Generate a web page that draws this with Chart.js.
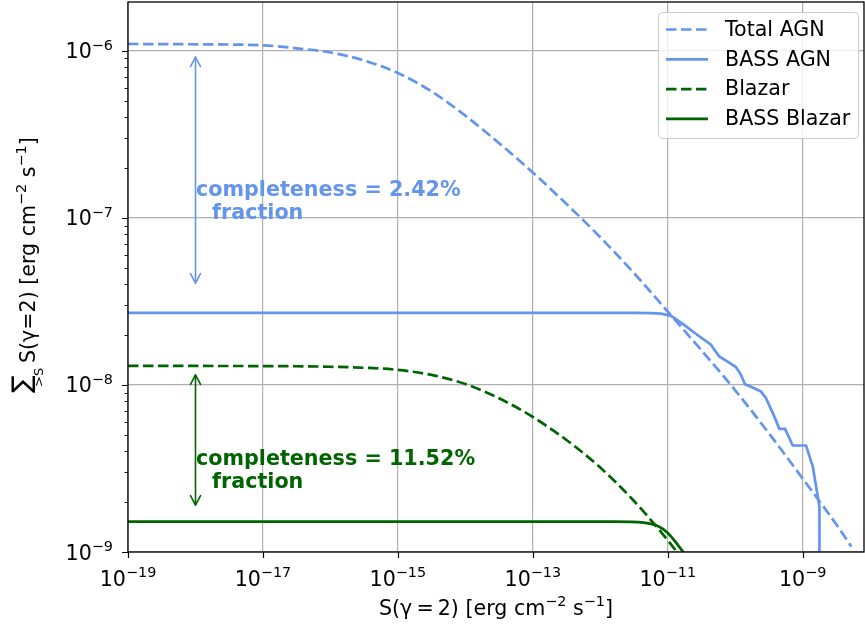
<!DOCTYPE html>
<html>
<head>
<meta charset="utf-8">
<script src="https://cdn.jsdelivr.net/npm/chart.js@4.4.1/dist/chart.umd.min.js"></script>
<style>
  html, body { margin: 0; padding: 0; background: #ffffff; }
  #wrap { width: 865px; height: 628px; position: relative; }
  canvas { display: block; }
</style>
</head>
<body>
<div id="wrap"><canvas id="chart" width="865" height="628"></canvas></div>
<script>
// ---------------- data ----------------
const seriesNames = ['Total AGN', 'BASS AGN', 'Blazar', 'BASS Blazar'];

const totalAgnX = [1e-19, 1e-18, 1e-17, 3.16e-17, 1e-16, 3.16e-16, 1e-15, 3.16e-15, 1e-14, 3.16e-14,
                   1e-13, 3.16e-13, 1e-12, 3.16e-12, 1e-11, 3.16e-11, 1e-10, 3.16e-10, 1e-9, 3.16e-9, 5.25e-9];
const totalAgnY = [1.099e-6, 1.094e-6, 1.079e-6, 1.035e-6, 9.77e-7, 8.75e-7, 7.36e-7, 5.71e-7, 4.09e-7, 2.80e-7,
                   1.87e-7, 1.21e-7, 7.66e-8, 4.67e-8, 2.75e-8, 1.61e-8, 9.29e-9, 5.13e-9, 2.75e-9, 1.46e-9, 1.08e-9];

const bassAgnX = [1e-19, 1e-12, 3.16e-12, 5.58e-12, 7.94e-12, 1.00e-11, 1.175e-11, 1.746e-11, 2.76e-11, 4.36e-11,
                  5.78e-11, 7.71e-11, 1.023e-10, 1.216e-10, 1.393e-10, 1.914e-10, 2.41e-10, 2.86e-10, 3.80e-10,
                  4.51e-10, 5.47e-10, 7.13e-10, 1.122e-9, 1.413e-9, 1.77e-9, 1.77e-9];
const bassAgnY = [2.70e-8, 2.70e-8, 2.70e-8, 2.69e-8, 2.67e-8, 2.62e-8, 2.56e-8, 2.29e-8, 1.99e-8, 1.74e-8,
                  1.48e-8, 1.38e-8, 1.28e-8, 1.15e-8, 1.01e-8, 9.55e-9, 9.12e-9, 8.32e-9, 6.46e-9,
                  5.46e-9, 5.46e-9, 4.34e-9, 4.34e-9, 3.24e-9, 1.87e-9, 3.0e-10];

const blazarX = [1e-19, 1e-17, 3.16e-17, 1e-16, 3.16e-16, 1e-15, 3.16e-15, 1e-14, 3.16e-14, 1e-13, 3.16e-13,
                 1e-12, 3.16e-12, 1e-11, 1.78e-11];
const blazarY = [1.300e-8, 1.297e-8, 1.294e-8, 1.285e-8, 1.267e-8, 1.230e-8, 1.148e-8, 1.012e-8, 8.32e-9, 6.43e-9, 4.68e-9,
                 3.20e-9, 2.02e-9, 1.175e-9, 8.7e-10];

const bassBlazarX = [1e-19, 1.58e-12, 4.40e-12, 7.10e-12, 1.0e-11, 1.73e-11, 2.2e-11];
const bassBlazarY = [1.52e-9, 1.52e-9, 1.50e-9, 1.43e-9, 1.30e-9, 9.9e-10, 8.7e-10];

const xTickValues = [1e-19, 1e-17, 1e-15, 1e-13, 1e-11, 1e-9];
const xTickLabels = [['10', '−19'], ['10', '−17'], ['10', '−15'], ['10', '−13'], ['10', '−11'], ['10', '−9']];
const yTickValues = [1e-9, 1e-8, 1e-7, 1e-6];
const yTickLabels = [['10', '−9'], ['10', '−8'], ['10', '−7'], ['10', '−6']];
const yMinorTickValues = [2e-9,3e-9,4e-9,5e-9,6e-9,7e-9,8e-9,9e-9,
                          2e-8,3e-8,4e-8,5e-8,6e-8,7e-8,8e-8,9e-8,
                          2e-7,3e-7,4e-7,5e-7,6e-7,7e-7,8e-7,9e-7];

// axis title runs: [text, isSuperscript]
const xAxisTitle = [['S(γ\u2009=\u20092) [erg cm', false], ['−2', true], [' s', false], ['−1', true], [']', false]];
const yAxisTitle = [['S(γ=2) [erg cm', false], ['−2', true], [' s', false], ['−1', true], [']', false]];
const ySumSign = '∑';
const ySumSub = '>S';

// annotations: arrow end values (data units) and texts
const arrowX = 1e-18;
const blueArrowY = [9.17e-7, 4.07e-8];
const greenArrowY = [1.148e-8, 1.91e-9];
const blueNote = ['completeness = 2.42%', 'fraction'];
const greenNote = ['completeness = 11.52%', 'fraction'];
const blueNoteY = 1.28e-7;
const greenNoteY = 3.16e-9;

// ---------------- styling ----------------
const BLUE = '#6495ED';
const GREEN = '#006400';
const FONT = "'DejaVu Sans', 'Liberation Sans', sans-serif";
const MAIN_PX = 20.6, SUP_PX = 14.4, SUP_RAISE = 8.7;
const LW = 2.7;
const DASH = [10.5, 4.5];

function pts(xs, ys) { return xs.map((x, i) => ({ x: x, y: ys[i] })); }

const styles = [
  { color: BLUE, dash: DASH },
  { color: BLUE, dash: [] },
  { color: GREEN, dash: DASH },
  { color: GREEN, dash: [] }
];

// measure & draw runs of text with superscripts (horizontal, in current transform)
function runsWidth(ctx, runs) {
  let w = 0;
  runs.forEach(([t, sup]) => { ctx.font = (sup ? SUP_PX : MAIN_PX) + 'px ' + FONT; w += ctx.measureText(t).width; });
  return w;
}
function drawRuns(ctx, runs, x, y) {
  ctx.textBaseline = 'alphabetic';
  ctx.textAlign = 'left';
  runs.forEach(([t, sup]) => {
    ctx.font = (sup ? SUP_PX : MAIN_PX) + 'px ' + FONT;
    ctx.fillText(t, x, sup ? y - SUP_RAISE : y);
    x += ctx.measureText(t).width;
  });
}

const overlay = {
  id: 'overlay',
  afterDatasetsDraw(chart) {
    const ctx = chart.ctx;
    const a = chart.chartArea;
    const xs = chart.scales.x, ys = chart.scales.y;

    // --- arrows ---
    function arrow(xv, y1v, y2v, color) {
      const x = Math.round(xs.getPixelForValue(xv)) + 0.5;
      const yA = ys.getPixelForValue(y1v), yB = ys.getPixelForValue(y2v);
      ctx.save();
      ctx.strokeStyle = color; ctx.lineWidth = 1.6; ctx.lineCap = 'round'; ctx.lineJoin = 'round';
      ctx.beginPath(); ctx.moveTo(x, yA); ctx.lineTo(x, yB); ctx.stroke();
      const hl = 9.5, hw = 5;
      ctx.beginPath();
      ctx.moveTo(x - hw, yA + hl); ctx.lineTo(x, yA); ctx.lineTo(x + hw, yA + hl);
      ctx.moveTo(x - hw, yB - hl); ctx.lineTo(x, yB); ctx.lineTo(x + hw, yB - hl);
      ctx.stroke();
      ctx.restore();
    }
    arrow(arrowX, blueArrowY[0], blueArrowY[1], BLUE);
    arrow(arrowX, greenArrowY[0], greenArrowY[1], GREEN);

    // --- notes ---
    function note(lines, yv, color) {
      const x = xs.getPixelForValue(arrowX) + 0.5;
      const yc = ys.getPixelForValue(yv);
      ctx.save();
      ctx.fillStyle = color;
      ctx.font = 'bold 20.7px ' + FONT;
      ctx.textBaseline = 'alphabetic';
      ctx.textAlign = 'left';
      ctx.fillText(lines[0], x, yc - 4);
      ctx.fillText(lines[1], x + 16, yc + 19);
      ctx.restore();
    }
    note(blueNote, blueNoteY, BLUE);
    note(greenNote, greenNoteY, GREEN);

    // --- frame ---
    ctx.save();
    ctx.strokeStyle = '#000'; ctx.lineWidth = 1.3;
    ctx.strokeRect(a.left, a.top, a.right - a.left, a.bottom - a.top);
    // ticks
    ctx.lineWidth = 1.2;
    ctx.beginPath();
    xTickValues.forEach(v => {
      const x = Math.round(xs.getPixelForValue(v)) + 0.5;
      ctx.moveTo(x, a.bottom); ctx.lineTo(x, a.bottom + 6);
    });
    yTickValues.forEach(v => {
      const y = Math.round(ys.getPixelForValue(v)) + 0.5;
      ctx.moveTo(a.left, y); ctx.lineTo(a.left - 6, y);
    });
    ctx.stroke();
    ctx.lineWidth = 0.9;
    ctx.beginPath();
    yMinorTickValues.forEach(v => {
      const y = Math.round(ys.getPixelForValue(v)) + 0.5;
      ctx.moveTo(a.left, y); ctx.lineTo(a.left - 3.5, y);
    });
    ctx.stroke();

    // tick labels
    ctx.fillStyle = '#000';
    xTickValues.forEach((v, i) => {
      const runs = [[xTickLabels[i][0], false], [xTickLabels[i][1], true]];
      const w = runsWidth(ctx, runs);
      const x = xs.getPixelForValue(v);
      drawRuns(ctx, runs, x - w / 2, a.bottom + 34);
    });
    yTickValues.forEach((v, i) => {
      const runs = [[yTickLabels[i][0], false], [yTickLabels[i][1], true]];
      const w = runsWidth(ctx, runs);
      const y = ys.getPixelForValue(v);
      drawRuns(ctx, runs, a.left - 15 - w, y + 7.5);
    });

    // x axis title
    const tw = runsWidth(ctx, xAxisTitle);
    drawRuns(ctx, xAxisTitle, (a.left + a.right) / 2 - tw / 2, 615);
    ctx.restore();

    // --- y axis title (rotated, with summation sign) ---
    ctx.save();
    ctx.fillStyle = '#000';
    ctx.save();
    ctx.translate(30, 393); ctx.rotate(-Math.PI / 2);
    ctx.font = '26px ' + FONT; ctx.textBaseline = 'alphabetic'; ctx.textAlign = 'left';
    ctx.fillText(ySumSign, 0, 0);
    ctx.restore();
    ctx.save();
    ctx.translate(43, 387); ctx.rotate(-Math.PI / 2);
    ctx.font = '13px ' + FONT; ctx.textBaseline = 'alphabetic'; ctx.textAlign = 'left';
    ctx.fillText(ySumSub, 0, 0);
    ctx.restore();
    ctx.save();
    ctx.translate(35, 363); ctx.rotate(-Math.PI / 2);
    drawRuns(ctx, yAxisTitle, 0, 0);
    ctx.restore();
    ctx.restore();

    // --- legend ---
    ctx.save();
    const bx = 658.5, by = 12.5, bw = 200, bh = 126, r = 4;
    ctx.beginPath();
    ctx.moveTo(bx + r, by);
    ctx.lineTo(bx + bw - r, by); ctx.quadraticCurveTo(bx + bw, by, bx + bw, by + r);
    ctx.lineTo(bx + bw, by + bh - r); ctx.quadraticCurveTo(bx + bw, by + bh, bx + bw - r, by + bh);
    ctx.lineTo(bx + r, by + bh); ctx.quadraticCurveTo(bx, by + bh, bx, by + bh - r);
    ctx.lineTo(bx, by + r); ctx.quadraticCurveTo(bx, by, bx + r, by);
    ctx.closePath();
    ctx.fillStyle = 'rgba(255,255,255,0.8)';
    ctx.fill();
    ctx.strokeStyle = '#cccccc'; ctx.lineWidth = 1;
    ctx.stroke();
    chart.data.datasets.forEach((ds, i) => {
      const y = 29.5 + i * 29.8;
      ctx.strokeStyle = ds.borderColor;
      ctx.lineWidth = LW;
      ctx.setLineDash(ds.borderDash || []);
      ctx.beginPath(); ctx.moveTo(666, y); ctx.lineTo(708, y); ctx.stroke();
      ctx.setLineDash([]);
      ctx.fillStyle = '#000';
      ctx.font = MAIN_PX + 'px ' + FONT;
      ctx.textBaseline = 'middle';
      ctx.textAlign = 'left';
      ctx.fillText(ds.label, 725, y + 1);
    });
    ctx.restore();
  }
};

function fixPad(s) { s.paddingTop = 0; s.paddingBottom = 0; s.paddingLeft = 0; s.paddingRight = 0; }

const chart = new Chart(document.getElementById('chart'), {
  type: 'line',
  data: {
    datasets: [
      { label: seriesNames[0], data: pts(totalAgnX, totalAgnY) },
      { label: seriesNames[1], data: pts(bassAgnX, bassAgnY) },
      { label: seriesNames[2], data: pts(blazarX, blazarY) },
      { label: seriesNames[3], data: pts(bassBlazarX, bassBlazarY) }
    ].map((d, i) => Object.assign(d, {
      borderColor: styles[i].color,
      borderDash: styles[i].dash,
      borderWidth: LW,
      pointRadius: 0,
      fill: false,
      tension: 0,
      cubicInterpolationMode: i === 1 ? 'default' : 'monotone'
    }))
  },
  options: {
    responsive: false,
    animation: false,
    devicePixelRatio: 1,
    layout: { padding: { left: 0, right: 1, top: 2, bottom: 0 } },
    plugins: { legend: { display: false }, tooltip: { enabled: false }, title: { display: false } },
    scales: {
      x: {
        type: 'logarithmic',
        min: 1e-19,
        max: 8.1e-9,
        afterBuildTicks: s => { s.ticks = xTickValues.map(v => ({ value: v })); },
        afterFit: s => { s.height = 76; fixPad(s); },
        ticks: { display: false },
        grid: { color: '#b0b0b0', lineWidth: 1.2, drawTicks: false },
        border: { display: false }
      },
      y: {
        type: 'logarithmic',
        min: 1e-9,
        max: 1.96e-6,
        afterBuildTicks: s => { s.ticks = yTickValues.map(v => ({ value: v })); },
        afterFit: s => { s.width = 128; fixPad(s); },
        ticks: { display: false },
        grid: { color: '#b0b0b0', lineWidth: 1.2, drawTicks: false },
        border: { display: false }
      }
    }
  },
  plugins: [overlay]
});
</script>
</body>
</html>
